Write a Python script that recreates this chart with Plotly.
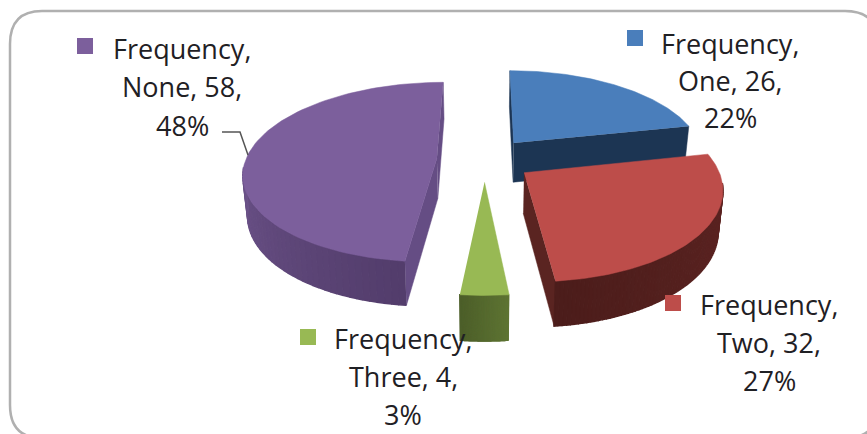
import numpy as np
import plotly.graph_objects as go

categories = ["One", "Two", "Three", "None"]
values = [26, 32, 4, 58]
series_name = "Frequency"

top_colors = ["#4a7ebb", "#bd4d4a", "#98b954", "#7c5f9c"]
rim_colors = [("#1c3553", "#1c3553"), ("#5e2523", "#4c1d1b"), ("#5f7534", "#4d5f2a"), ("#6c5389", "#533d6c")]
face_colors = ["#1c3553", "#5a2421", "#4d5f2a", "#654d84"]

# label centre x, first line y, line gap (pixels on the page)
label_pos = [(730, 43, 37), (769, 304, 38), (403, 338, 38), (182, 48, 38.5)]
key_pos = [(635, 38), (673, 303), (308, 337), (85, 46)]

# camera for the fake 3d pie
CX, CY = 484.5, 159.5
RX, RY = 191, 88
PERSP = 0.153
DEPTH = 40
EXPLODE = 0.25


def project(px, py, down=False):
    w = 1 - PERSP * py
    x = CX + RX * px / w
    y = CY + RY * py / w
    if down:
        x = CX + (x - CX) * 0.98
        y = y + DEPTH / w ** 0.6
    return x, y


def mix(c1, c2, t):
    a = [int(c1[i:i + 2], 16) for i in (1, 3, 5)]
    b = [int(c2[i:i + 2], 16) for i in (1, 3, 5)]
    return "rgb(%d,%d,%d)" % tuple(a[i] + (b[i] - a[i]) * t for i in range(3))


def add_poly(fig, xs, ys, color, width=0.5):
    fig.add_trace(go.Scatter(x=list(xs), y=list(ys), mode="lines", fill="toself", fillcolor=color,
                             line=dict(color=color, width=width), hoverinfo="skip", showlegend=False))


fig = go.Figure()

total = sum(values)
cum = np.cumsum([0] + values) / total * 2 * np.pi
order = [3, 0, 1, 2]  # purple at the back, red over the blue side

for i in order:
    start, end = cum[i], cum[i + 1]
    mid = (start + end) / 2
    ex, ey = EXPLODE * np.sin(mid), -EXPLODE * np.cos(mid)
    theta = np.linspace(start, end, 90)
    rim_x = ex + np.sin(theta)
    rim_y = ey - np.cos(theta)

    # straight cut faces, only the ones that turn towards the viewer
    ax, ay = project(ex, ey)
    mx, my = project(ex + np.sin(mid), ey - np.cos(mid))
    for t in (start, end):
        bx, by = project(ex + np.sin(t), ey - np.cos(t))
        nx, ny = -(by - ay), bx - ax
        if nx * (mx - ax) + ny * (my - ay) > 0:
            nx, ny = -nx, -ny
        if ny > 0:
            a2 = project(ex, ey, True)
            b2 = project(ex + np.sin(t), ey - np.cos(t), True)
            add_poly(fig, [ax, bx, b2[0], a2[0]], [ay, by, b2[1], a2[1]], face_colors[i])

    # outer wall, split in strips for the shading
    front = np.where(-np.cos(theta) > 0.1)[0]
    if len(front) > 1:
        for k in range(front[0], front[-1]):
            t = (k - front[0]) / max(1, front[-1] - front[0] - 1)
            x1, y1 = project(rim_x[k], rim_y[k])
            x2, y2 = project(rim_x[k + 1], rim_y[k + 1])
            x3, y3 = project(rim_x[k + 1], rim_y[k + 1], True)
            x4, y4 = project(rim_x[k], rim_y[k], True)
            # clockwise angles run right to left along the front
            c = mix(rim_colors[i][1], rim_colors[i][0], t) if i == 3 else mix(rim_colors[i][0], rim_colors[i][1], t)
            add_poly(fig, [x1, x2, x3, x4], [y1, y2, y3, y4], c, width=1.5)

    # top of the slice
    px, py = project(np.r_[ex, rim_x], np.r_[ey, rim_y])
    add_poly(fig, px, py, top_colors[i])

# leader line for the None label
fig.add_trace(go.Scatter(x=[222, 240, 248], y=[132, 132, 155], mode="lines",
                         line=dict(color="#555555", width=1.5), hoverinfo="skip", showlegend=False))

# legend keys beside the labels
fig.add_trace(go.Scatter(x=[p[0] for p in key_pos], y=[p[1] for p in key_pos], mode="markers",
                         marker=dict(symbol="square", size=16, color=top_colors), hoverinfo="skip", showlegend=False))

for i, cat in enumerate(categories):
    pct = round(values[i] / total * 100)
    lines = [f"{series_name},", f"{cat}, {values[i]},", f"{pct}%"]
    lx, ly, gap = label_pos[i]
    for j, line in enumerate(lines):
        fig.add_annotation(x=lx, y=ly + j * gap, text=line, showarrow=False, xanchor="center", yanchor="middle",
                           font=dict(family="Open Sans", size=27, color="#1f2024"))

# rounded chart frame, its right and bottom sides run off the page
fig.add_shape(type="path",
              path="M 10 44 Q 10 11 42 11 L 845 11 Q 878 11 878 44 L 878 405 Q 878 438 845 438 L 42 438 Q 10 438 10 405 Z",
              line=dict(color="#b0b0b0", width=2.5), layer="below")

fig.update_layout(
    width=867, height=434,
    margin=dict(l=0, r=0, t=0, b=0),
    paper_bgcolor="white", plot_bgcolor="white",
    xaxis=dict(range=[0, 867], visible=False, fixedrange=True),
    yaxis=dict(range=[434, 0], visible=False, fixedrange=True),
    showlegend=False,
)

fig.write_html("out.html", config=dict(displayModeBar=False),
               post_script="document.body.style.margin='0';document.body.style.overflow='hidden';")
